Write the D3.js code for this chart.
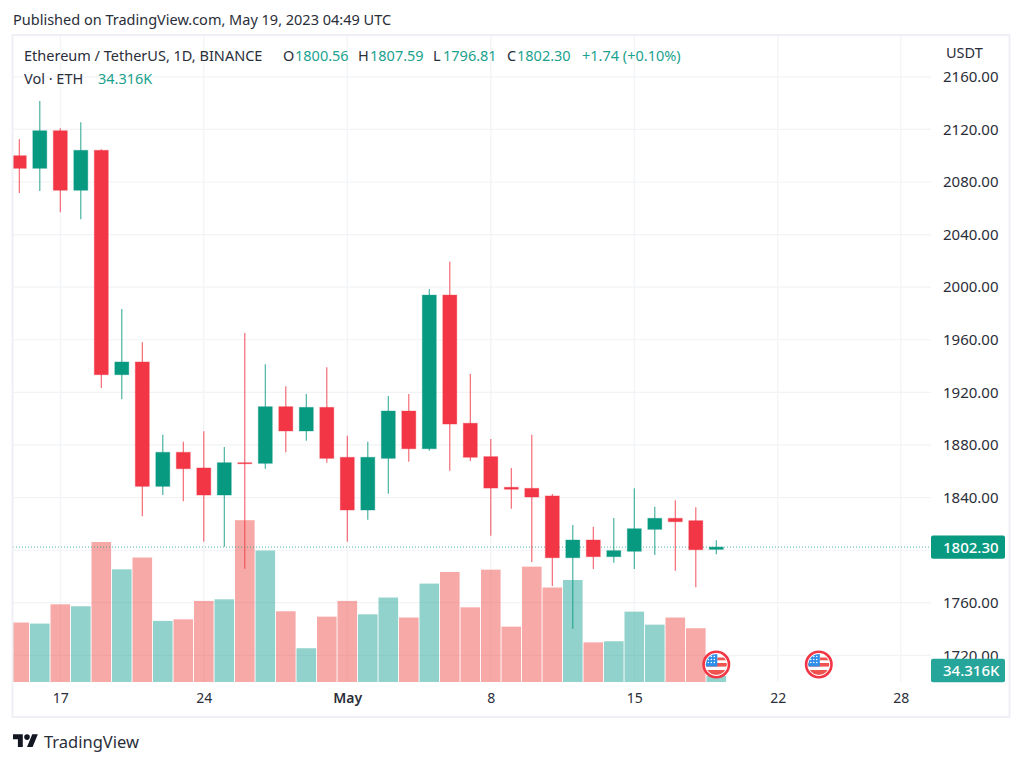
<!DOCTYPE html>
<html>
<head>
<meta charset="utf-8">
<script src="https://cdn.jsdelivr.net/npm/d3@7"></script>
<style>
    html, body { margin: 0; padding: 0; background: #fff; }
    svg { display: block; }
    text { font-family: "Noto Sans", sans-serif; }
    .axis path, .axis line { display: none; }
    .axis text { fill: #2a2e39; font-family: "Noto Sans", sans-serif; }
</style>
</head>
<body>
<div id="chart"></div>
<script>
const dates = [
    '2023-04-15', '2023-04-16', '2023-04-17', '2023-04-18', '2023-04-19', '2023-04-20', '2023-04-21',
    '2023-04-22', '2023-04-23', '2023-04-24', '2023-04-25', '2023-04-26', '2023-04-27', '2023-04-28',
    '2023-04-29', '2023-04-30', '2023-05-01', '2023-05-02', '2023-05-03', '2023-05-04', '2023-05-05',
    '2023-05-06', '2023-05-07', '2023-05-08', '2023-05-09', '2023-05-10', '2023-05-11', '2023-05-12',
    '2023-05-13', '2023-05-14', '2023-05-15', '2023-05-16', '2023-05-17', '2023-05-18', '2023-05-19'
];
const opens = [2100.0, 2090.4, 2119.0, 2073.7, 2104.1, 1933.4, 1943.1, 1848.5, 1874.4, 1862.5, 1841.9, 1866.5, 1866.0, 1909.1, 1890.6, 1908.6, 1870.6, 1830.5, 1869.8, 1905.8, 1877.1, 1994.0, 1896.5, 1871.1, 1847.8, 1847.0, 1841.2, 1794.2, 1807.7, 1795.0, 1799.1, 1815.8, 1824.2, 1822.4, 1800.56];
const highs = [2112.5, 2141.6, 2120.8, 2125.4, 2104.9, 1983.4, 1958.1, 1887.8, 1882.5, 1890.4, 1878.4, 1965.1, 1941.3, 1924.6, 1918.7, 1939.1, 1887.0, 1882.5, 1917.2, 1918.7, 1998.6, 2019.4, 1934.0, 1884.5, 1862.5, 1887.8, 1842.7, 1819.1, 1817.8, 1824.4, 1847.0, 1833.0, 1837.9, 1832.6, 1807.59];
const lows = [2071.6, 2073.1, 2056.9, 2051.6, 1923.3, 1914.7, 1825.7, 1841.9, 1837.1, 1806.4, 1802.6, 1785.9, 1861.9, 1874.4, 1883.2, 1866.5, 1806.4, 1823.1, 1842.9, 1867.3, 1875.6, 1860.4, 1867.8, 1811.0, 1831.5, 1791.0, 1772.7, 1740.2, 1785.6, 1790.4, 1785.6, 1796.3, 1784.4, 1771.7, 1796.81];
const closes = [2090.4, 2119.0, 2073.7, 2104.1, 1933.4, 1943.1, 1848.5, 1874.4, 1861.9, 1841.9, 1866.5, 1865.7, 1909.1, 1890.6, 1908.6, 1869.8, 1830.5, 1870.6, 1905.8, 1877.1, 1994.0, 1895.9, 1870.6, 1847.2, 1846.3, 1840.4, 1794.2, 1807.7, 1795.0, 1799.6, 1816.3, 1824.2, 1821.6, 1800.3, 1802.30];
const volumes = [333, 327, 435, 424, 784, 631, 697, 342, 351, 454, 463, 906, 736, 396, 189, 366, 454, 379, 473, 361, 551, 616, 418, 629, 310, 646, 529, 571, 222, 228, 394, 321, 361, 301, 34.316];

const priceTicks = [1720, 1760, 1800, 1840, 1880, 1920, 1960, 2000, 2040, 2080, 2120, 2160];
const timeTicks = ['2023-04-17', '2023-04-24', '2023-05-01', '2023-05-08', '2023-05-15', '2023-05-22', '2023-05-28'];
const timeLabels = ['17', '24', 'May', '8', '15', '22', '28'];
const eventDates = ['2023-05-19', '2023-05-24'];

const lastPrice = 1802.30;
const lastVolume = 34.316;

const w = 1024;
const h = 765;
const plotLeft = 13;
const plotRight = 931;
const plotTop = 36;
const plotBottom = 682;

const up = '#089981';
const down = '#f23645';

const x = d3.scaleUtc()
    .domain([new Date('2023-04-17'), new Date('2023-05-15')])
    .range([60.3, 634.3]);
const y = d3.scaleLinear().domain([1720, 2120]).range([655.3, 129.4]);
const yVol = d3.scaleLinear().domain([0, 1000]).range([plotBottom, plotBottom - 178.6]);

const candles = dates.map((d, i) => ({
    date: new Date(d), open: opens[i], high: highs[i], low: lows[i], close: closes[i], vol: volumes[i]
}));

const svg = d3.select('#chart').append('svg').attr('width', w).attr('height', h);
svg.append('rect').attr('width', w).attr('height', h).attr('fill', '#fff');

svg.append('clipPath').attr('id', 'plot')
    .append('rect').attr('x', plotLeft).attr('y', plotTop).attr('width', plotRight - plotLeft).attr('height', plotBottom - plotTop);

// grid
svg.append('g').selectAll('line').data(priceTicks).enter().append('line')
    .attr('x1', plotLeft).attr('x2', plotRight)
    .attr('y1', d => y(d)).attr('y2', d => y(d))
    .attr('stroke', '#f2f3f6').attr('stroke-width', 1.2);
svg.append('g').selectAll('line').data(timeTicks).enter().append('line')
    .attr('x1', d => x(new Date(d))).attr('x2', d => x(new Date(d)))
    .attr('y1', plotTop).attr('y2', plotBottom)
    .attr('stroke', '#f2f3f6').attr('stroke-width', 1.2);

const plot = svg.append('g').attr('clip-path', 'url(#plot)');

// volume under the candles
plot.selectAll('.vol').data(candles).enter().append('rect')
    .attr('class', 'vol')
    .attr('x', d => x(d.date) - 9.8)
    .attr('width', 19.6)
    .attr('y', d => yVol(d.vol))
    .attr('height', d => plotBottom - yVol(d.vol))
    .attr('fill', d => d.close >= d.open ? '#26a69a' : '#ef5350')
    .attr('opacity', 0.5);

plot.append('line')
    .attr('x1', plotLeft).attr('x2', plotRight)
    .attr('y1', y(lastPrice)).attr('y2', y(lastPrice))
    .attr('stroke', up).attr('stroke-width', 1).attr('stroke-dasharray', '1 2').attr('opacity', 0.7);

plot.selectAll('.wick').data(candles).enter().append('line')
    .attr('class', 'wick')
    .attr('x1', d => x(d.date)).attr('x2', d => x(d.date))
    .attr('y1', d => y(d.high)).attr('y2', d => y(d.low))
    .attr('stroke', d => d.close >= d.open ? up : down)
    .attr('stroke-width', 1.1)
    .attr('opacity', 0.8);

plot.selectAll('.body').data(candles).enter().append('rect')
    .attr('class', 'body')
    .attr('x', d => x(d.date) - 7)
    .attr('width', 14)
    .attr('y', d => y(Math.max(d.open, d.close)))
    .attr('height', d => Math.max(1, Math.abs(y(d.open) - y(d.close))))
    .attr('fill', d => d.close >= d.open ? up : down)
    .attr('stroke', d => d.close >= d.open ? up : down)
    .attr('stroke-opacity', 0.35)
    .attr('stroke-width', 1);

// axes
const yAxis = d3.axisRight(y).tickValues(priceTicks).tickFormat(d3.format('.2f')).tickSize(0).tickPadding(0);
svg.append('g')
    .attr('class', 'axis')
    .attr('transform', 'translate(943,0)')
    .style('font-size', '15px')
    .call(yAxis);

const xAxis = d3.axisBottom(x)
    .tickValues(timeTicks.map(d => new Date(d)))
    .tickFormat((d, i) => timeLabels[i])
    .tickSize(0)
    .tickPadding(0);
svg.append('g')
    .attr('class', 'axis')
    .attr('transform', 'translate(0,693)')
    .style('font-size', '14px')
    .call(xAxis)
    .selectAll('text')
    .style('font-weight', (d, i) => timeLabels[i] === 'May' ? 600 : 400);

// last value tags
const tags = [
    { label: d3.format('.2f')(lastPrice), cy: y(lastPrice), fill: up },
    { label: lastVolume.toFixed(3) + 'K', cy: yVol(0) - 11.5, fill: '#26a69a' }
];
const tag = svg.append('g').selectAll('g').data(tags).enter().append('g');
tag.append('rect')
    .attr('x', plotRight).attr('width', 74)
    .attr('y', d => d.cy - 11.7).attr('height', 23.4)
    .attr('rx', 2)
    .attr('fill', d => d.fill);
tag.append('text')
    .attr('x', 943).attr('y', d => d.cy + 5.5)
    .attr('fill', '#fff').attr('font-size', 15).attr('font-weight', 500)
    .text(d => d.label);

// event flags
const flag = svg.append('g').selectAll('g').data(eventDates).enter().append('g')
    .attr('transform', d => `translate(${x(new Date(d))},664.5)`);
svg.append('clipPath').attr('id', 'flag-clip').append('circle').attr('r', 10.5);
flag.append('circle').attr('r', 12.7).attr('fill', '#fff').attr('stroke', down).attr('stroke-width', 2.6);
const inner = flag.append('g').attr('clip-path', 'url(#flag-clip)');
inner.append('rect').attr('x', -11).attr('y', -1.5).attr('width', 22).attr('height', 3.6).attr('fill', '#ef5350');
inner.append('rect').attr('x', -11).attr('y', 5.5).attr('width', 22).attr('height', 6).attr('fill', '#ef5350');
inner.append('rect').attr('x', 1).attr('y', -7).attr('width', 10).attr('height', 2.8).attr('fill', '#ef5350');
inner.append('rect').attr('x', -11).attr('y', -11).attr('width', 12).attr('height', 13).attr('fill', '#2f8fe8');
[-8, -5, -2].forEach(cx => {
    [-8, -5, -2].forEach(cy => {
        inner.append('circle').attr('cx', cx).attr('cy', cy).attr('r', 0.8).attr('fill', '#fff');
    });
});

// frame
svg.append('rect')
    .attr('x', plotLeft - 0.5).attr('y', plotTop - 1)
    .attr('width', 1010 - plotLeft).attr('height', 718 - plotTop)
    .attr('fill', 'none').attr('stroke', '#eff0f5').attr('stroke-width', 2);

// header and legend text
svg.append('text').attr('x', 13).attr('y', 25).attr('font-size', 14.5).attr('fill', '#2a2e39')
    .text('Published on TradingView.com, May 19, 2023 04:49 UTC');

svg.append('text').attr('x', 946).attr('y', 58).attr('font-size', 14.5).attr('fill', '#2a2e39').text('USDT');

const legend = svg.append('g').attr('font-size', 14.5);
const legendBits = [
    { x: 24, y: 61, t: 'Ethereum / TetherUS, 1D, BINANCE', c: '#2a2e39' },
    { x: 283, y: 61, t: 'O', c: '#2a2e39' },
    { x: 295, y: 61, t: '1800.56', c: '#1aa28e' },
    { x: 358, y: 61, t: 'H', c: '#2a2e39' },
    { x: 370, y: 61, t: '1807.59', c: '#1aa28e' },
    { x: 433, y: 61, t: 'L', c: '#2a2e39' },
    { x: 443, y: 61, t: '1796.81', c: '#1aa28e' },
    { x: 507, y: 61, t: 'C', c: '#2a2e39' },
    { x: 517, y: 61, t: '1802.30', c: '#1aa28e' },
    { x: 582, y: 61, t: '+1.74 (+0.10%)', c: '#1aa28e' },
    { x: 24, y: 84, t: 'Vol · ETH', c: '#2a2e39' },
    { x: 98, y: 84, t: '34.316K', c: '#1aa28e' }
];
legend.selectAll('text').data(legendBits).enter().append('text')
    .attr('x', d => d.x).attr('y', d => d.y).attr('fill', d => d.c).text(d => d.t);

// footer logo
const logo = svg.append('g').attr('transform', 'translate(13,731.5) scale(0.7)').attr('fill', '#131722');
logo.append('path').attr('d', 'M14 22H7V11H0V4h14v18zM28 22h-8l7.5-18h8L28 22z');
logo.append('circle').attr('cx', 20).attr('cy', 8).attr('r', 4);
svg.append('text').attr('x', 44).attr('y', 748).attr('font-size', 16.5).attr('fill', '#2a2e39').text('TradingView');
</script>
</body>
</html>
